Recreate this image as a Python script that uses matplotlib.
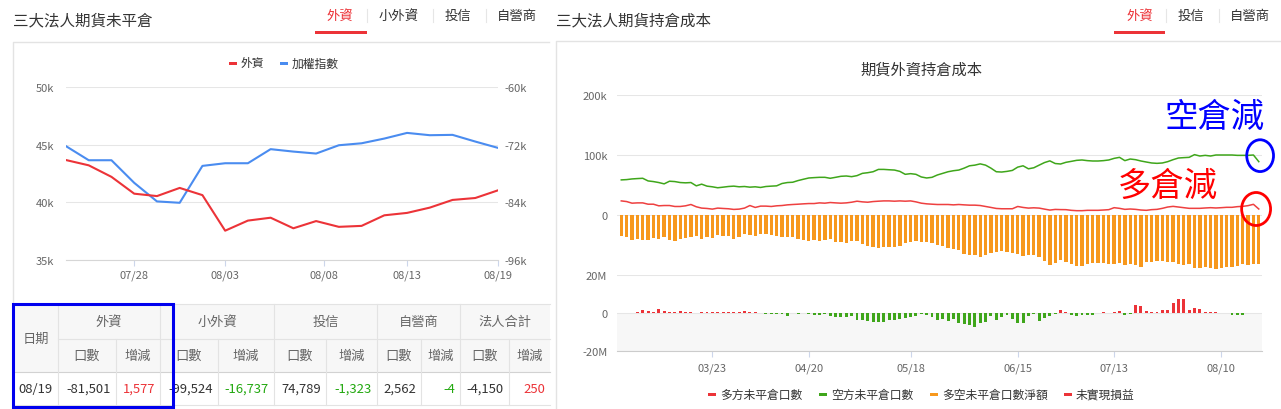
import numpy as np
import pandas as pd
import matplotlib
matplotlib.use('Agg')
import matplotlib.pyplot as plt
from matplotlib.patches import Rectangle, Ellipse

plt.rcParams['font.family'] = ['Noto Sans CJK TC', 'DejaVu Sans']

W, H = 1281, 410
RED = '#ec3338'
BLUE = '#4a8cf0'
GREEN = '#3fa61b'
ORANGE = '#f7981d'
GRID = '#e6e6e6'
LABEL = '#666666'

# ---- 左圖：三大法人期貨未平倉 (07/23 ~ 08/19)
left_dates = pd.bdate_range('2020-07-23', '2020-08-19')
foreign_oi = [-75.2, -76.3, -78.7, -82.2, -82.7, -81.0, -82.5, -89.9, -87.8, -87.2,
              -89.4, -87.9, -89.1, -88.9, -86.7, -86.2, -85.1, -83.5, -83.1, -81.5]   # 千口
taiex = [44.87, 43.65, 43.65, 41.69, 40.08, 39.96, 43.16, 43.39, 43.39, 44.61,
         44.40, 44.23, 44.95, 45.12, 45.53, 46.02, 45.82, 45.85, 45.27, 44.72]
left_ticks = ['07/28', '08/03', '08/08', '08/13', '08/19']

# ---- 表格
table_groups = ['外資', '小外資', '投信', '自營商', '法人合計']
table_date = '08/19'
table_oi = ['-81,501', '-99,524', '74,789', '2,562', '-4,150']
table_chg = [1577, -16737, -1323, -4, 250]

# ---- 右圖：期貨外資持倉成本 (02/26 ~ 08/19)
holidays = ['2020-02-28', '2020-04-02', '2020-04-03', '2020-05-01', '2020-06-25', '2020-06-26']
right_ticks = ['03/23', '04/20', '05/18', '06/15', '07/13', '08/10']

long_oi = [23.5, 22.4, 19.7, 20.2, 20.2, 18.0, 18.0, 15.3, 15.8, 15.8,
           14.2, 14.2, 15.3, 17.5, 13.7, 11.5, 10.9, 9.8, 11.5, 10.9,
           10.4, 9.3, 9.8, 11.5, 15.8, 12.6, 14.8, 14.8, 14.2, 15.3,
           15.8, 16.9, 17.5, 18.0, 18.6, 19.1, 19.1, 20.2, 19.7, 20.8,
           20.2, 19.7, 20.2, 21.3, 23.0, 21.9, 21.3, 22.4, 23.0, 23.5,
           23.5, 23.0, 23.5, 23.0, 23.5, 21.9, 19.7, 18.6, 18.0, 17.5,
           17.5, 17.5, 16.9, 17.5, 16.9, 16.4, 16.4, 15.8, 14.2, 12.6,
           10.9, 10.4, 10.4, 10.4, 14.2, 12.6, 11.5, 12.0, 11.5, 9.8,
           8.2, 9.3, 9.0, 8.9, 7.8, 7.2, 7.2, 7.8, 7.8, 7.8,
           8.3, 8.9, 12.2, 11.1, 9.4, 10.0, 9.4, 8.3, 7.8, 8.9,
           9.4, 11.1, 13.3, 14.4, 13.3, 12.2, 11.1, 11.1, 11.1, 11.7,
           12.2, 11.7, 12.2, 12.8, 12.8, 13.9, 14.4, 15.6, 17.8, 10.0]   # 千口

short_oi = [58.5, 59.0, 60.1, 60.7, 61.2, 56.8, 55.7, 54.1, 51.9, 56.3,
            55.7, 54.1, 53.6, 54.1, 48.6, 51.4, 48.1, 47.0, 45.4, 46.4,
            47.5, 48.1, 47.0, 47.5, 46.4, 47.0, 45.9, 47.5, 48.1, 48.6,
            52.5, 54.1, 54.6, 57.4, 59.6, 61.7, 62.3, 62.8, 62.8, 61.2,
            62.8, 64.5, 65.0, 63.9, 65.6, 69.4, 70.5, 72.1, 76.0, 76.0,
            75.4, 74.9, 72.7, 67.8, 68.9, 67.8, 63.4, 61.7, 62.8, 66.7,
            69.4, 72.1, 73.8, 74.9, 78.1, 82.0, 83.1, 85.2, 83.1, 78.1,
            72.1, 71.6, 72.7, 74.3, 79.8, 82.0, 77.0, 78.7, 83.1, 87.4,
            90.2, 85.8, 85.0, 87.8, 89.4, 91.1, 91.7, 90.6, 90.0, 90.0,
            90.6, 91.7, 94.4, 96.1, 90.6, 93.3, 92.2, 90.0, 88.3, 86.7,
            86.1, 86.7, 88.9, 92.2, 95.0, 95.6, 96.1, 100.6, 98.3, 99.4,
            98.3, 100.0, 100.0, 100.0, 100.0, 99.4, 99.4, 99.4, 100.0, 88.9]

net_oi = [-34.4, -36.6, -41.0, -39.3, -41.0, -41.0, -38.3, -39.9, -36.6, -41.0,
          -42.6, -39.3, -37.7, -36.6, -35.5, -39.3, -36.6, -38.3, -33.3, -35.5,
          -35.0, -39.3, -36.6, -31.7, -33.0, -34.4, -31.7, -31.1, -33.3, -35.0,
          -36.6, -36.1, -36.6, -39.9, -41.0, -43.2, -41.0, -42.6, -41.0, -39.9,
          -44.3, -45.4, -46.4, -43.2, -43.2, -48.1, -51.4, -54.1, -54.6, -53.6,
          -53.0, -52.5, -51.4, -46.0, -44.8, -43.7, -44.3, -44.8, -45.9, -49.2,
          -51.9, -55.2, -57.4, -59.0, -64.5, -66.1, -66.1, -69.4, -67.2, -63.4,
          -61.7, -60.7, -61.7, -63.9, -65.0, -68.9, -66.7, -67.2, -69.4, -76.0,
          -82.5, -80.3, -75.5, -77.8, -81.7, -84.4, -84.4, -81.7, -79.4, -80.6,
          -80.6, -81.7, -81.7, -80.6, -83.3, -81.1, -83.3, -86.1, -78.9, -77.8,
          -77.2, -76.1, -77.8, -78.9, -82.2, -83.3, -82.2, -88.9, -87.8, -86.7,
          -88.9, -89.4, -87.8, -86.7, -86.1, -84.4, -82.2, -83.3, -82.2, -81.5]

pnl = [0, 0, 0, 0.6, 1.6, 1.0, 0.6, 2.1, 1.0, 0.5,
       0.6, 1.1, 0.5, 0.5, 0, 0.3, 0.3, 0.4, 0.4, 0.3,
       0.3, 0.4, 0.5, 1.1, 0.4, 0.4, 0.2, -0.35, -0.35, -0.7,
       -0.7, -1.75, -0.1, -0.35, 0, -0.35, -1.05, -1.05, -0.35, -1.75,
       -2.1, -2.3, -2.3, -1.75, -3.5, -3.5, -4.0, -4.6, -4.6, -4.6,
       -3.9, -3.5, -3.2, -2.5, -2.0, -1.4, -0.3, -1.05, -2.3, -3.7,
       -3.3, -4.4, -3.2, -5.1, -6.0, -6.1, -7.2, -5.3, -4.9, -1.4,
       -3.5, -2.3, -0.9, -3.2, -5.3, -5.3, -1.4, -0.7, -4.2, -2.6,
       -1.4, -0.5, 1.4, 0.4, -1.2, -1.4, -0.8, -0.8, -0.9, 0,
       0.3, 0, 0.3, 1.0, -0.8, -0.3, 4.0, 3.7, 1.2, 0.7,
       0.4, 1.6, 1.7, 5.4, 7.4, 7.4, 1.8, 2.8, 2.1, 0.6,
       0.7, 0.6, 0, 0, -1.0, -1.0, -1.0, 0, 0, 0]   # 百萬


fig = plt.figure(figsize=(W / 100, H / 100), dpi=100)


def px_axes(x0, y0, x1, y1, **kw):
    return fig.add_axes([x0 / W, 1 - y1 / H, (x1 - x0) / W, (y1 - y0) / H], **kw)


bg = fig.add_axes([0, 0, 1, 1], zorder=0)
bg.set_xlim(0, W)
bg.set_ylim(H, 0)
bg.axis('off')

# 卡片外框
bg.plot([13.3, 13.3, 549], [410, 43.3, 43.3], color='#e3e3e3', lw=1)
bg.plot([555.6, 555.6, W], [410, 41.7, 41.7], color='#e3e3e3', lw=1)


def header(title, tx, names, centers, seps, line):
    bg.text(tx, 21, title, fontsize=11.2, va='center', color='#333333')
    for i, (name, cx) in enumerate(zip(names, centers)):
        bg.text(cx, 16, name, ha='center', va='center', fontsize=9.6,
                color=RED if i == 0 else '#333333')
    for sx in seps:
        bg.plot([sx, sx], [10, 23], color='#e6e6e6', lw=0.8)
    bg.add_patch(Rectangle((line[0], 32), line[1] - line[0], 3, color=RED, lw=0))


header('三大法人期貨未平倉', 13, ['外資', '小外資', '投信', '自營商'],
       [340, 399, 458, 517], [367, 433, 486], (315, 367))
header('三大法人期貨持倉成本', 556, ['外資', '投信', '自營商'],
       [1140, 1191, 1250], [1166, 1219], (1114, 1165))


def legend_item(x, y, color, text):
    bg.add_patch(Rectangle((x - 4, y - 1.5), 8, 3, color=color, lw=0))
    bg.text(x + 8, y, text, fontsize=8.5, va='center', color='#333333')


# ---- 左圖
legend_item(233, 64, RED, '外資')
legend_item(284, 64, BLUE, '加權指數')

xl = np.arange(len(left_dates))
axL = px_axes(66, 88, 498, 261, zorder=1)
axL.set_facecolor('none')
axL.plot(xl, taiex, color=BLUE, lw=1.5)
axL.set_xlim(0, len(xl) - 1)
axL.set_ylim(35, 50)
axL.set_yticks([35, 40, 45, 50], ['35k', '40k', '45k', '50k'])
axL.grid(axis='y', color=GRID, lw=0.75)
axL.set_axisbelow(True)
tick_dates = pd.to_datetime(['2020-' + t.replace('/', '-') for t in left_ticks])
left_pos = np.interp(tick_dates.values.astype('int64'),
                     left_dates.values.astype('int64'), xl)
axL.set_xticks(left_pos, left_ticks)
axL.tick_params(axis='x', length=4, color='#ccd6eb', pad=3, labelsize=8, labelcolor=LABEL)
axL.tick_params(axis='y', length=0, pad=8.5, labelsize=8, labelcolor=LABEL)
for s in ['top', 'left', 'right']:
    axL.spines[s].set_visible(False)
axL.spines['bottom'].set_color('#d6d6d6')

axR = axL.twinx()
axR.plot(xl, foreign_oi, color=RED, lw=1.5)
axR.set_ylim(-96, -60)
axR.set_yticks([-96, -84, -72, -60], ['-96k', '-84k', '-72k', '-60k'])
axR.tick_params(axis='y', length=0, pad=5, labelsize=8, labelcolor=LABEL)
for s in axR.spines.values():
    s.set_visible(False)

# ---- 表格
xs = [13, 58, 116, 160, 218, 274, 326, 377, 421, 460, 509, 550]
y0, y1, y2, y3 = 305, 340, 373, 406
bg.add_patch(Rectangle((13, y0), 537, y2 - y0, color='#f7f7f7', lw=0))
bg.plot([13, 550], [y0, y0], color='#e3e3e3', lw=0.8)
bg.plot([58, 550], [y1, y1], color='#e3e3e3', lw=0.8)
bg.plot([13, 550], [y2, y2], color='#d2d2d2', lw=0.8)
bg.plot([13, 550], [y3, y3], color='#e3e3e3', lw=0.8)
for i, xx in enumerate(xs[1:-1], start=1):
    top = y0 if i % 2 == 1 else y1
    bg.plot([xx, xx], [top, y3], color='#e3e3e3', lw=0.8)

bg.text((xs[0] + xs[1]) / 2, (y0 + y2) / 2, '日期', ha='center', va='center',
        fontsize=9.5, color=LABEL)
bg.text((xs[0] + xs[1]) / 2, (y2 + y3) / 2, table_date, ha='center', va='center',
        fontsize=9.4, color='#333333')
for g, name in enumerate(table_groups):
    a, b, c = xs[1 + 2 * g], xs[2 + 2 * g], xs[3 + 2 * g]
    bg.text((a + c) / 2, (y0 + y1) / 2, name, ha='center', va='center', fontsize=9.5, color=LABEL)
    bg.text((a + b) / 2, (y1 + y2) / 2, '口數', ha='center', va='center', fontsize=9.5, color=LABEL)
    bg.text((b + c) / 2, (y1 + y2) / 2, '增減', ha='center', va='center', fontsize=9.5, color=LABEL)
    bg.text(b - 5, (y2 + y3) / 2, table_oi[g], ha='right', va='center', fontsize=9.4, color='#333333')
    chg = table_chg[g]
    bg.text(c - 5, (y2 + y3) / 2, f'{chg:,}', ha='right', va='center', fontsize=9.4,
            color=RED if chg > 0 else '#22a80f')

bg.add_patch(Rectangle((13.3, 305), 159.3, 103, fill=False, edgecolor='#0000ee', lw=2.2, zorder=5))

# ---- 右圖
dates = pd.bdate_range('2020-02-26', '2020-08-19').drop(pd.to_datetime(holidays))
x = np.arange(len(dates))
right_pos = dates.get_indexer(pd.to_datetime(['2020-' + t.replace('/', '-') for t in right_ticks]))

bg.text(921, 70, '期貨外資持倉成本', ha='center', va='center', fontsize=11, color='#333333')

axT = px_axes(617, 96, 1262, 276, zorder=1)
axT.set_facecolor('none')
axT.bar(x, net_oi, width=0.62, color=ORANGE, zorder=2)
axT.plot(x, long_oi, color='#ee4040', lw=1.1, zorder=3)
axT.plot(x, short_oi, color=GREEN, lw=1.1, zorder=3)
axT.set_xlim(-0.8, len(x) - 0.4)
axT.set_ylim(-100, 200)
axT.set_yticks([0, 100, 200], ['0', '100k', '200k'])
axT.grid(axis='y', color=GRID, lw=0.75)
axT.set_axisbelow(True)
axT.set_xticks([])
axT.tick_params(axis='y', length=0, pad=7, labelsize=8, labelcolor=LABEL)
for s in axT.spines.values():
    s.set_visible(False)

last = len(x) - 1
axT.text(110.8, 164, '空倉減', color='#0000ff', fontsize=24, ha='center', va='center')
axT.text(102.1, 49, '多倉減', color='#ff0000', fontsize=24, ha='center', va='center')
axT.add_patch(Ellipse((last + 0.25, short_oi[-1] + 10), 5.0, 53, fill=False,
                      edgecolor='#0000ff', lw=2, clip_on=False, zorder=4))
axT.add_patch(Ellipse((last - 0.5, long_oi[-1]), 5.4, 55, fill=False,
                      edgecolor='#ff0000', lw=2, clip_on=False, zorder=4))

axB = px_axes(617, 276, 1262, 352, zorder=1)
axB.set_facecolor('none')
axB.axhspan(-20, 0, color='#f7f7f7', lw=0, zorder=0)
axB.bar(x, pnl, width=0.55, color=[RED if v > 0 else GREEN for v in pnl], zorder=2)
axB.set_xlim(-0.8, len(x) - 0.4)
axB.set_ylim(-20, 20)
axB.set_yticks([-20, 0, 20], ['-20M', '0', '20M'])
axB.grid(axis='y', color=GRID, lw=0.75)
axB.set_axisbelow(True)
axB.set_xticks(right_pos, right_ticks)
axB.tick_params(axis='x', length=4, color='#ccd6eb', pad=4, labelsize=8, labelcolor=LABEL)
axB.tick_params(axis='y', length=0, pad=7, labelsize=8, labelcolor=LABEL)
for s in ['top', 'left', 'right']:
    axB.spines[s].set_visible(False)
axB.spines['bottom'].set_color('#cccccc')

legend_item(712, 395, RED, '多方未平倉口數')
legend_item(823, 395, GREEN, '空方未平倉口數')
legend_item(934, 395, ORANGE, '多空未平倉口數淨額')
legend_item(1068, 395, RED, '未實現損益')

fig.savefig('out.png', dpi=100)
